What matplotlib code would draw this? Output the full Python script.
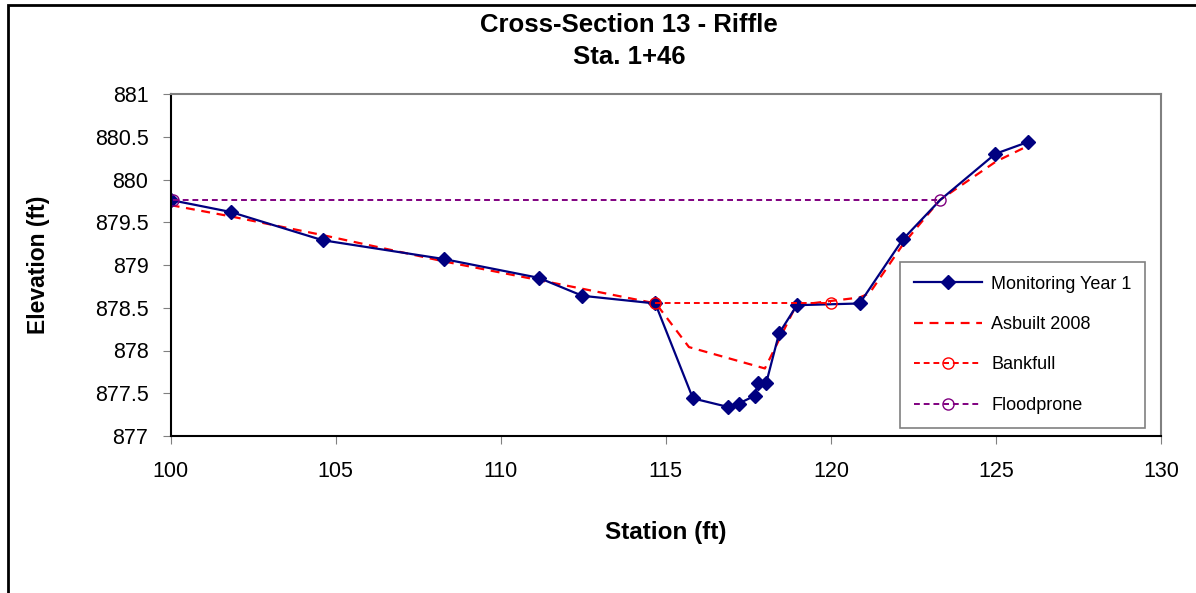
import matplotlib
matplotlib.use("Agg")
import matplotlib.pyplot as plt
from matplotlib.patches import Rectangle

plt.rcParams['font.family'] = ['Liberation Sans', 'DejaVu Sans']

# Monitoring Year 1 survey
mon_x = [100.0, 101.82, 104.6, 108.27, 111.15, 112.47, 114.68, 115.82, 116.88,
         117.21, 117.69, 117.79, 118.04, 118.43, 118.97, 120.87, 122.18, 123.31,
         124.98, 125.98]
mon_y = [879.76, 879.62, 879.29, 879.07, 878.85, 878.64, 878.55, 877.44, 877.34,
         877.38, 877.47, 877.62, 877.62, 878.2, 878.53, 878.55, 879.3, 879.76,
         880.3, 880.44]

# Asbuilt 2008
asb_x = [100.0, 101.8, 104.6, 108.3, 111.2, 114.7, 115.7, 118.0, 118.95, 120.87,
         121.17, 122.2, 123.3, 125.0, 125.9]
asb_y = [879.7, 879.57, 879.35, 879.04, 878.82, 878.55, 878.04, 877.79, 878.53,
         878.62, 878.67, 879.25, 879.76, 880.21, 880.38]

bank_x = [114.68, 120.01]
bank_y = [878.55, 878.55]

flood_x = [100.08, 123.31]
flood_y = [879.76, 879.76]

fig = plt.figure(figsize=(11.96, 5.93), dpi=100)
ax = fig.add_axes([170.7/1196, 1-436/593, (1161-170.7)/1196, (436-94)/593])

ax.plot(asb_x, asb_y, color='#FF0000', lw=1.6, dashes=(4, 3), label='Asbuilt 2008')
mk = [i for i in range(len(mon_x)) if i != 17]
ax.plot(mon_x, mon_y, color='#000080', lw=1.6, marker='D', ms=7.5,
        markevery=mk, label='Monitoring Year 1')
ax.plot(bank_x, bank_y, color='#FF0000', lw=1.4, dashes=(3, 2), marker='o', ms=8,
        mfc='none', mec='#FF0000', label='Bankfull')
ax.plot(flood_x, flood_y, color='#800080', lw=1.4, dashes=(3, 2), marker='o', ms=8,
        mfc='none', mec='#800080', label='Floodprone')

ax.set_xlim(100, 130)
ax.set_ylim(877, 881)
ax.set_xticks(range(100, 131, 5))
ax.set_yticks([877, 877.5, 878, 878.5, 879, 879.5, 880, 880.5, 881])
ax.set_yticklabels(['877', '877.5', '878', '878.5', '879', '879.5', '880', '880.5', '881'])
ax.tick_params(axis='both', labelsize=15.5, length=6, color='#808080')
ax.tick_params(axis='x', pad=12)
ax.tick_params(axis='y', pad=10)
ax.spines['top'].set_color('#808080')
ax.spines['right'].set_color('#808080')
for s in ax.spines.values():
    s.set_linewidth(1.5)

ax.set_xlabel('Station (ft)', fontsize=17.5, fontweight='bold', labelpad=28)
ax.set_ylabel('Elevation (ft)', fontsize=16.5, fontweight='bold', labelpad=32)

fig.text(629/1196, 1-13/593, 'Cross-Section 13 - Riffle\nSta. 1+46', ha='center',
         va='top', fontsize=18.5, fontweight='bold', linespacing=1.4)

h, l = ax.get_legend_handles_labels()
order = [1, 0, 2, 3]
leg = ax.legend([h[i] for i in order], [l[i] for i in order],
                loc='upper left', bbox_to_anchor=(900/1196, 1-262/593),
                bbox_transform=fig.transFigure, fontsize=13, fancybox=False,
                edgecolor='#808080', framealpha=1, borderaxespad=0,
                handlelength=3.8, handletextpad=0.5, labelspacing=1.3,
                borderpad=0.75)
leg.get_frame().set_linewidth(1.2)

# outer chart frame (cut off at right and bottom)
fig.patches.append(Rectangle((8/1196, -0.1), 1.2, 1-5/593+0.1, transform=fig.transFigure,
                             fill=False, lw=2, edgecolor='black'))

fig.savefig('out.png', dpi=100)
